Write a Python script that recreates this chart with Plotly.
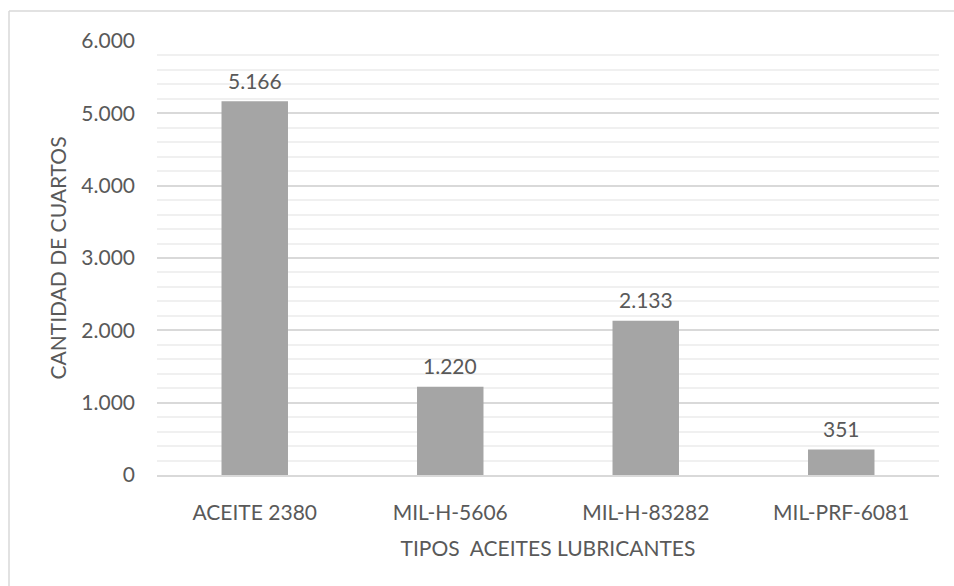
import plotly.graph_objects as go

# Lubricant oil types and quart counts
categories = ["ACEITE 2380", "MIL-H-5606", "MIL-H-83282", "MIL-PRF-6081"]
quarts = [5166, 1220, 2133, 351]
y_ticks = [0, 1000, 2000, 3000, 4000, 5000, 6000]

FONT = "Lato"
TEXT = "#595959"

fig = go.Figure(
    go.Bar(
        x=categories,
        y=quarts,
        width=0.34,
        marker=dict(color="#a5a5a5", line=dict(width=0)),
    )
)

# Value labels above each bar
for cat, val in zip(categories, quarts):
    fig.add_annotation(
        x=cat, y=val, text=f"{val:,}".replace(",", "."),
        showarrow=False, yanchor="middle", yshift=21,
        font=dict(family=FONT, size=21, color=TEXT),
    )

L, R, T, B = 157, 15, 41, 111
W, H = 954, 586
pw, ph = W - L - R, H - T - B

# Outer frame of the chart area (left and top edges visible)
bx = (9 - L) / pw
by = (H - B - 11) / ph
fig.add_shape(type="line", xref="paper", yref="paper", x0=bx, x1=bx, y0=-1, y1=by,
              line=dict(color="#d9d9d9", width=1.5))
fig.add_shape(type="line", xref="paper", yref="paper", x0=bx, x1=2, y0=by, y1=by,
              line=dict(color="#d9d9d9", width=1.5))

fig.update_layout(
    width=W,
    height=H,
    margin=dict(l=L, r=R, t=T, b=B),
    paper_bgcolor="white",
    plot_bgcolor="white",
    separators=",.",
    showlegend=False,
    font=dict(family=FONT, color=TEXT, size=21),
    xaxis=dict(
        title=dict(text="TIPOS  ACEITES LUBRICANTES", font=dict(size=21, color=TEXT), standoff=18),
        tickfont=dict(size=21, color=TEXT),
        showline=True,
        linecolor="#d9d9d9",
        linewidth=1.5,
        ticks="",
        ticklen=0,
        ticklabelstandoff=18,
    ),
    yaxis=dict(
        title=dict(text="CANTIDAD DE CUARTOS", font=dict(size=21, color=TEXT), standoff=8),
        range=[0, 6000],
        tickvals=y_ticks,
        tickformat=",d",
        tickfont=dict(size=21, color=TEXT),
        gridcolor="#d9d9d9",
        gridwidth=1.5,
        zeroline=False,
        showline=False,
        ticks="",
        ticklabelstandoff=21,
        minor=dict(dtick=200, showgrid=True, gridcolor="#f0f0f0", gridwidth=1.5),
    ),
)

fig.write_html("out.html")
